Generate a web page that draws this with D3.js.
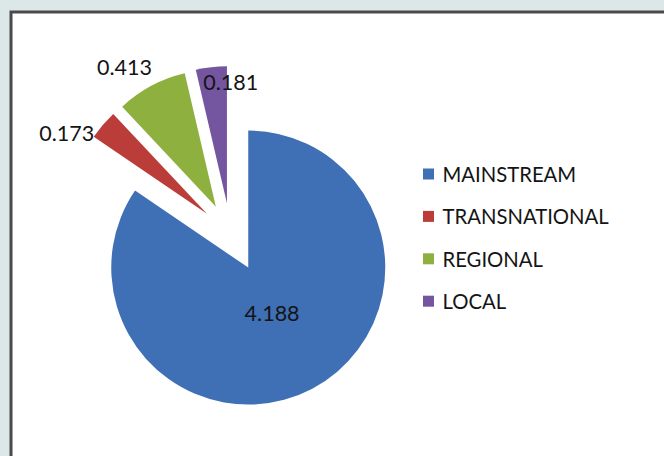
<!DOCTYPE html>
<html>
<head>
<meta charset="utf-8">
<script src="https://cdn.jsdelivr.net/npm/d3@7"></script>
<style>
    body { margin: 0; background: #dce8e8; }
    svg { display: block; }
</style>
</head>
<body>
<svg id="chart" width="664" height="456"></svg>
<script>
// chart data
const categories = ['MAINSTREAM', 'TRANSNATIONAL', 'REGIONAL', 'LOCAL'];
const values = [4.188, 0.173, 0.413, 0.181];
const labels = ['4.188', '0.173', '0.413', '0.181'];

const colors = ['#3f6fb4', '#bb3d3a', '#8db03f', '#7456a0'];

const width = 664;
const height = 456;
const cx = 230.5, cy = 234;   // pie centre before explosion
const radius = 137;
const explode = [38, 31, 31, 31];          // offset of each slice along its bisector
const labelDist = [51, 162, 167, 121];      // label distance from the slice tip
const labelTurn = [0, -10.5, -5, 8.4];      // label angle tweak, degrees

const svg = d3.select('#chart');

// frame
svg.append('rect')
    .attr('x', 11).attr('y', 12)
    .attr('width', width).attr('height', height)
    .attr('fill', '#fff')
    .attr('stroke', '#4a4a4a')
    .attr('stroke-width', 3);

const pie = d3.pie().sort(null).value(d => d)(values);
const arc = d3.arc().innerRadius(0).outerRadius(radius);

const g = svg.append('g').attr('transform', `translate(${cx},${cy})`);

// slices, each pushed out from the centre
const slices = g.selectAll('g.slice')
    .data(pie)
    .join('g')
    .attr('class', 'slice')
    .attr('transform', (d, i) => {
        const a = (d.startAngle + d.endAngle) / 2;
        return `translate(${Math.sin(a) * explode[i]},${-Math.cos(a) * explode[i]})`;
    });

slices.append('path')
    .attr('d', arc)
    .attr('fill', (d, i) => colors[i]);

// data labels
slices.append('text')
    .attr('x', (d, i) => {
        const a = (d.startAngle + d.endAngle) / 2 + labelTurn[i] * Math.PI / 180;
        return Math.sin(a) * labelDist[i];
    })
    .attr('y', (d, i) => {
        const a = (d.startAngle + d.endAngle) / 2 + labelTurn[i] * Math.PI / 180;
        return -Math.cos(a) * labelDist[i];
    })
    .attr('text-anchor', 'middle')
    .attr('dominant-baseline', 'central')
    .attr('font-family', 'Lato, sans-serif')
    .attr('font-size', 21.5)
    .attr('fill', '#141414')
    .text((d, i) => labels[i]);

// legend
const legend = svg.append('g').attr('transform', 'translate(423,174)');

const items = legend.selectAll('g')
    .data(categories)
    .join('g')
    .attr('transform', (d, i) => `translate(0,${i * 42.4})`);

items.append('rect')
    .attr('x', 0).attr('y', -5.5)
    .attr('width', 11).attr('height', 11)
    .attr('fill', (d, i) => colors[i]);

items.append('text')
    .attr('x', 19.5)
    .attr('y', 0)
    .attr('dominant-baseline', 'central')
    .attr('font-family', 'Lato, sans-serif')
    .attr('font-size', 20.3)
    .attr('fill', '#141414')
    .text(d => d);
</script>
</body>
</html>
